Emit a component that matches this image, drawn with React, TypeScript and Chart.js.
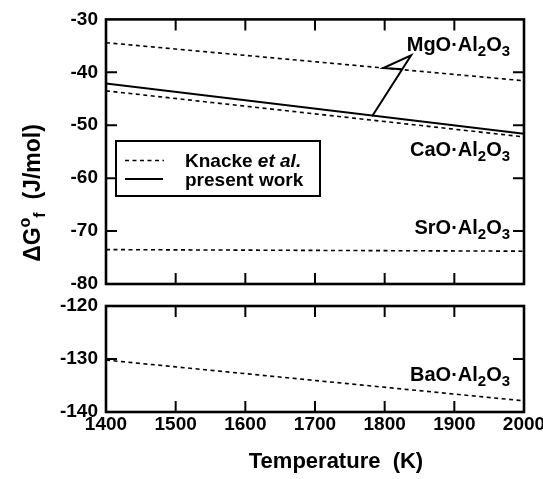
import React, { useEffect, useRef } from 'react';
import { Chart, registerables } from 'chart.js';

Chart.register(...registerables);

// ---- data ----
const temperatures = [1400, 2000];
const mgoKnacke = [-34.4, -41.6];
const caoKnacke = [-43.5, -52.2];
const presentWork = [-42.1, -51.6];
const sroKnacke = [-73.5, -73.8];
const baoKnacke = [-130.2, -137.9];

const xTicks = [1400, 1500, 1600, 1700, 1800, 1900, 2000];
const topYTicks = [-80, -70, -60, -50, -40, -30];
const bottomYTicks = [-140, -130, -120];

// arrow (data coordinates): tail on present-work line, tip near MgO label
const arrowTail = [1782, -48.3];
const arrowTip = [1838, -36.8];
const arrowBarb = [1798, -39.2];
const arrowJoin = [1825, -39.4];

// annotation labels: x (right edge), y (centre)
const labelX = 1980;
const mgoLabelY = -34.6;
const caoLabelY = -54.4;
const sroLabelY = -69.3;
const baoLabelY = -132.9;

const FONT = '"Liberation Sans", Arial, Helvetica, sans-serif';

function pts(ys: number[]) {
  return temperatures.map((t, i) => ({ x: t, y: ys[i] }));
}

function dashed(data: number[]) {
  return {
    data: pts(data),
    borderColor: '#000',
    borderWidth: 1.6,
    borderDash: [4, 3.5],
    pointRadius: 0,
    fill: false,
  };
}
function solid(data: number[]) {
  return {
    data: pts(data),
    borderColor: '#000',
    borderWidth: 2,
    pointRadius: 0,
    fill: false,
  };
}

const framePlugin = {
  id: 'frame',
  afterDatasetsDraw(chart: any, _args: any, opts: any) {
    const { ctx, chartArea: a, scales } = chart;
    const x = scales.x;
    const y = scales.y;
    const L = 11;
    ctx.save();
    ctx.strokeStyle = '#000';
    ctx.lineWidth = 2;
    ctx.beginPath();
    for (const t of xTicks.slice(1, -1)) {
      const px = x.getPixelForValue(t);
      ctx.moveTo(px, a.top);
      ctx.lineTo(px, a.top + L);
      ctx.moveTo(px, a.bottom);
      ctx.lineTo(px, a.bottom - L);
    }
    const yt: number[] = opts.yTicks || [];
    for (const v of yt.slice(1, -1)) {
      const py = y.getPixelForValue(v);
      ctx.moveTo(a.left, py);
      ctx.lineTo(a.left + L, py);
      ctx.moveTo(a.right, py);
      ctx.lineTo(a.right - L, py);
    }
    ctx.stroke();
    ctx.lineWidth = 2.6;
    ctx.strokeRect(a.left, a.top, a.right - a.left, a.bottom - a.top);
    ctx.restore();
  },
};

function drawFormula(ctx: CanvasRenderingContext2D, prefix: string, xRight: number, yCenter: number) {
  const main = `bold 20px ${FONT}`;
  const sub = `bold 15px ${FONT}`;
  const parts: [string, boolean][] = [
    [prefix + '\u00B7Al', false],
    ['2', true],
    ['O', false],
    ['3', true],
  ];
  let w = 0;
  for (const [t, s] of parts) {
    ctx.font = s ? sub : main;
    w += ctx.measureText(t).width;
  }
  let cx = xRight - w;
  ctx.textAlign = 'left';
  ctx.textBaseline = 'alphabetic';
  const base = yCenter + 7;
  for (const [t, s] of parts) {
    ctx.font = s ? sub : main;
    ctx.fillText(t, cx, s ? base + 5 : base);
    cx += ctx.measureText(t).width;
  }
}

const topTextPlugin = {
  id: 'topText',
  afterDraw(chart: any) {
    const { ctx, scales } = chart;
    const x = scales.x;
    const y = scales.y;
    ctx.save();
    ctx.fillStyle = '#000';
    drawFormula(ctx, 'MgO', x.getPixelForValue(labelX), y.getPixelForValue(mgoLabelY));
    drawFormula(ctx, 'CaO', x.getPixelForValue(labelX), y.getPixelForValue(caoLabelY));
    drawFormula(ctx, 'SrO', x.getPixelForValue(labelX), y.getPixelForValue(sroLabelY));

    // arrow
    const P = (p: number[]) => [x.getPixelForValue(p[0]), y.getPixelForValue(p[1])];
    const tail = P(arrowTail), tip = P(arrowTip), barb = P(arrowBarb), join = P(arrowJoin);
    ctx.strokeStyle = '#000';
    ctx.lineWidth = 2;
    ctx.setLineDash([]);
    ctx.beginPath();
    ctx.moveTo(tail[0], tail[1]);
    ctx.lineTo(tip[0], tip[1]);
    ctx.lineTo(barb[0], barb[1]);
    ctx.lineTo(join[0], join[1]);
    ctx.stroke();

    // legend
    const bx = 116, by = 141, bw = 204, bh = 55;
    ctx.fillStyle = '#fff';
    ctx.fillRect(bx, by, bw, bh);
    ctx.lineWidth = 2;
    ctx.strokeRect(bx, by, bw, bh);
    ctx.beginPath();
    ctx.lineWidth = 1.6;
    ctx.setLineDash([4, 3.5]);
    ctx.moveTo(125, 160.5);
    ctx.lineTo(164, 160.5);
    ctx.stroke();
    ctx.setLineDash([]);
    ctx.beginPath();
    ctx.lineWidth = 2;
    ctx.moveTo(125, 179);
    ctx.lineTo(163, 179);
    ctx.stroke();
    ctx.fillStyle = '#000';
    ctx.textBaseline = 'alphabetic';
    ctx.textAlign = 'left';
    ctx.font = `bold 19px ${FONT}`;
    ctx.fillText('Knacke ', 185, 167);
    const kw = ctx.measureText('Knacke ').width;
    ctx.font = `italic bold 19px ${FONT}`;
    ctx.fillText('et al.', 185 + kw, 167);
    ctx.font = `bold 19px ${FONT}`;
    ctx.fillText('present work', 185, 186);

    // y axis title (rotated)
    const segs: [string, string, number][] = [
      ['\u0394G', `bold 23px ${FONT}`, 0],
      ['o', `bold 16px ${FONT}`, -10],
      ['f', `bold 16px ${FONT}`, 5],
      ['  (J/mol)', `bold 23px ${FONT}`, 0],
    ];
    let tw = 0;
    for (const [t, f] of segs) {
      ctx.font = f;
      tw += ctx.measureText(t).width;
    }
    ctx.translate(40, 193 + tw / 2);
    ctx.rotate(-Math.PI / 2);
    let cx = 0;
    for (const [t, f, dy] of segs) {
      ctx.font = f;
      ctx.fillText(t, cx, dy);
      cx += ctx.measureText(t).width;
    }
    ctx.restore();
  },
};

const bottomTextPlugin = {
  id: 'bottomText',
  afterDraw(chart: any) {
    const { ctx, scales, chartArea } = chart;
    const x = scales.x;
    const y = scales.y;
    ctx.save();
    ctx.fillStyle = '#000';
    drawFormula(ctx, 'BaO', x.getPixelForValue(labelX), y.getPixelForValue(baoLabelY));
    ctx.font = `bold 22px ${FONT}`;
    ctx.textAlign = 'center';
    ctx.textBaseline = 'middle';
    ctx.fillText('Temperature  (K)', (chartArea.left + chartArea.right) / 2 + 21, 462);
    ctx.restore();
  },
};

const tickFont = { family: FONT, size: 19, weight: 'bold' as const };

function topConfig(): any {
  return {
    type: 'line',
    data: {
      datasets: [dashed(mgoKnacke), dashed(caoKnacke), solid(presentWork), dashed(sroKnacke)],
    },
    options: {
      responsive: false,
      animation: false,
      events: [],
      layout: { padding: { left: 0, right: 19, top: 19, bottom: 195 } },
      plugins: { legend: { display: false }, tooltip: { enabled: false }, frame: { yTicks: topYTicks } },
      scales: {
        x: { type: 'linear', min: 1400, max: 2000, display: false },
        y: {
          type: 'linear',
          min: -80,
          max: -30,
          afterFit(s: any) { s.width = 106; },
          grid: { display: false, drawTicks: false },
          border: { display: false },
          ticks: { stepSize: 10, font: tickFont, color: '#000', padding: 8, callback: (v: any) => String(v) },
        },
      },
    },
    plugins: [framePlugin, topTextPlugin],
  };
}

function bottomConfig(): any {
  return {
    type: 'line',
    data: { datasets: [dashed(baoKnacke)] },
    options: {
      responsive: false,
      animation: false,
      events: [],
      layout: { padding: { left: 0, right: 19, top: 306, bottom: 0 } },
      plugins: { legend: { display: false }, tooltip: { enabled: false }, frame: { yTicks: bottomYTicks } },
      scales: {
        x: {
          type: 'linear',
          min: 1400,
          max: 2000,
          afterFit(s: any) { s.height = 67; s.paddingLeft = 0; s.paddingRight = 0; },
          grid: { display: false, drawTicks: false },
          border: { display: false },
          ticks: { stepSize: 100, font: tickFont, color: '#000', padding: 1, maxRotation: 0, autoSkip: false, callback: (v: any) => String(v) },
        },
        y: {
          type: 'linear',
          min: -140,
          max: -120,
          afterFit(s: any) { s.width = 106; },
          grid: { display: false, drawTicks: false },
          border: { display: false },
          ticks: { stepSize: 10, font: tickFont, color: '#000', padding: 8, callback: (v: any) => String(v) },
        },
      },
    },
    plugins: [framePlugin, bottomTextPlugin],
  };
}

export default function App() {
  const topRef = useRef<HTMLCanvasElement>(null);
  const botRef = useRef<HTMLCanvasElement>(null);
  useEffect(() => {
    const c1 = new Chart(topRef.current as HTMLCanvasElement, topConfig());
    const c2 = new Chart(botRef.current as HTMLCanvasElement, bottomConfig());
    return () => {
      c1.destroy();
      c2.destroy();
    };
  }, []);
  return (
    <div style={{ position: 'fixed', left: 0, top: 0, width: 543, height: 479, background: '#fff' }}>
      <canvas ref={topRef} width={543} height={479} style={{ position: 'absolute', left: 0, top: 0 }} />
      <canvas ref={botRef} width={543} height={479} style={{ position: 'absolute', left: 0, top: 0 }} />
    </div>
  );
}
